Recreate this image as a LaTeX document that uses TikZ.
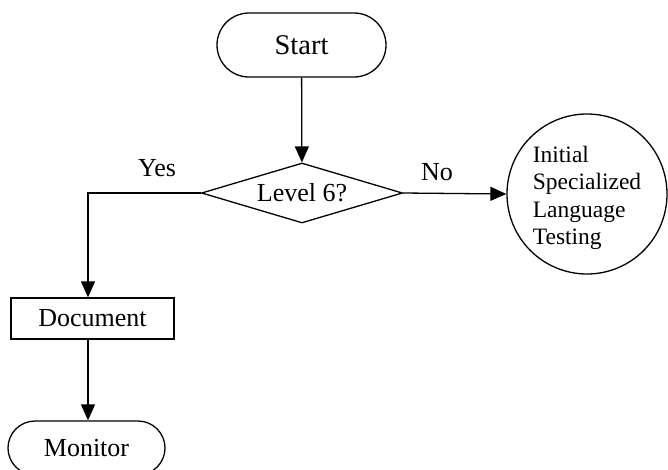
\documentclass[tikz,border=0pt]{standalone}
\usepackage{fontspec}
\setmainfont{Liberation Serif}
\usetikzlibrary{shapes.geometric,shapes.misc,arrows.meta}
\begin{document}
\begin{tikzpicture}[x=1pt,y=-1pt,
  line width=1.3pt,
  every node/.style={font=\fontsize{26}{30}\selectfont},
  term/.style={draw,rounded rectangle,inner sep=0pt},
  boxnode/.style={draw,rectangle,inner sep=0pt},
  decision/.style={draw,diamond,shape aspect=3.35,inner sep=0pt,minimum width=201pt,minimum height=60pt},
  bubble/.style={draw,circle,inner sep=0pt,minimum size=160pt},
  bubbletext/.style={inner sep=0pt,align=left,font=\fontsize{23.5}{27.5}\selectfont},
  lbl/.style={inner sep=0pt},
  arr/.style={-{Triangle[length=16pt,width=14pt]}}]
\useasboundingbox (0,0) rectangle (668,469);
\clip (0,0) rectangle (668,469);
\node[term,minimum width=169pt,minimum height=64pt,font=\fontsize{28.5}{32}\selectfont] (start) at (301.5,45) {Start};
\node[decision] (dia) at (302,193) {Level 6?};
\node[bubble] (circ) at (587,194) {};
\node[bubbletext] (circtext) at (587,198) {Initial\\Specialized\\Language\\Testing};
\node[boxnode,minimum width=163pt,minimum height=41pt] (doc) at (92.5,318.5) {Document};
\node[term,minimum width=157pt,minimum height=54pt] (mon) at (86.5,448) {Monitor};
\node[lbl] (yes) at (157,168) {Yes};
\node[lbl] (no) at (437,172) {No};
\draw[arr] (start) -- (dia);
\draw[arr] (dia.west) -| ([xshift=-4.5pt]doc.north);
\draw[arr] (dia.east) -- (circ.west);
\draw[arr] ([xshift=-4.5pt]doc.south) -- ([xshift=-4.5pt]doc.south |- mon.north);
\end{tikzpicture}
\end{document}
